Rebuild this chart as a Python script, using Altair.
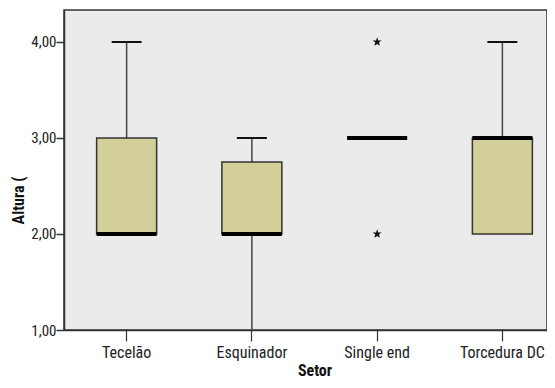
import altair as alt
import pandas as pd

categories = ["Tecelão", "Esquinador", "Single end", "Torcedura DC"]
q1 = [2.0, 2.0, 3.0, 2.0]
median = [2.0, 2.0, 3.0, 3.0]
q3 = [3.0, 2.75, 3.0, 3.0]
whisker_lo = [2.0, 1.0, 3.0, 2.0]
whisker_hi = [4.0, 3.0, 3.0, 4.0]
outlier_cat = ["Single end", "Single end"]
outlier_val = [4.0, 2.0]
y_ticks = [1, 2, 3, 4]

box = pd.DataFrame({"setor": categories, "q1": q1, "median": median, "q3": q3,
                    "lo": whisker_lo, "hi": whisker_hi})
caps = pd.concat([
    pd.DataFrame({"setor": box["setor"], "v": box["hi"], "edge": box["q3"]}),
    pd.DataFrame({"setor": box["setor"], "v": box["lo"], "edge": box["q1"]}),
])
caps = caps[(caps["v"] != caps["edge"]) & (caps["v"] > min(y_ticks))]
outl = pd.DataFrame({"setor": outlier_cat, "v": outlier_val})

FONT = "Liberation Sans Narrow, Roboto Condensed, Liberation Sans"
DARK = "#333333"
STAR = ("M0,-1L0.235,-0.324L0.951,-0.309L0.38,0.124L0.588,0.809L0,0.4"
        "L-0.588,0.809L-0.38,0.124L-0.951,-0.309L-0.235,-0.324Z")

x = alt.X("setor:N", sort=categories,
          scale=alt.Scale(domain=categories, range=[0, 501], paddingInner=0, paddingOuter=0),
          axis=alt.Axis(orient="bottom", title="Setor", labelAngle=0, labelFont=FONT,
                        labelFontSize=16, labelColor="#222", tickSize=11, tickColor=DARK,
                        tickWidth=1.2, domainColor=DARK, domainWidth=1.5, labelPadding=3,
                        titleFont=FONT, titleFontSize=16, titleFontWeight="bold",
                        titleColor="#111", titleY=45, titleBaseline="alphabetic"))
yscale = alt.Scale(domain=[1, 4.3333], nice=False, zero=False)
yaxis = alt.Axis(title="Altura (", values=y_ticks, grid=False,
                 labelExpr="replace(format(datum.value, '.2f'), '.', ',')",
                 labelFont=FONT, labelFontSize=15, labelColor="#222", labelPadding=0,
                 tickSize=8, tickColor=DARK, tickWidth=1.5, domainColor=DARK, domainWidth=1.5,
                 titleFont=FONT, titleFontSize=16, titleFontWeight="bold", titleColor="#111",
                 titleAngle=270, titleX=-46, titleY=190, titleAlign="center",
                 titleBaseline="middle")

base = alt.Chart(box)
whisk = base.mark_rule(color="#444", strokeWidth=1.5).encode(
    x=x, y=alt.Y("lo:Q", scale=yscale, axis=yaxis), y2="hi:Q")
rects = base.mark_bar(size=60, color="#D3CF98", stroke=DARK, strokeWidth=1.5).encode(
    x=x, y=alt.Y("q1:Q", scale=yscale), y2="q3:Q")
meds = base.mark_tick(size=60, thickness=4, color="#000", opacity=1).encode(
    x=x, y=alt.Y("median:Q", scale=yscale))
capm = alt.Chart(caps).mark_tick(size=30, thickness=2, color="#111", opacity=1).encode(
    x=x, y=alt.Y("v:Q", scale=yscale))
stars = alt.Chart(outl).mark_point(shape=STAR, filled=True, size=90, color="#111",
                                   opacity=1).encode(
    x=x, y=alt.Y("v:Q", scale=yscale))

chart = alt.layer(whisk, rects, meds, capm, stars).properties(
    width=483, height=320,
    autosize=alt.AutoSizeParams(type="none"),
    padding={"left": 56, "top": 2, "right": 0, "bottom": 50},
    background="white",
).configure_view(fill="#EBEBEB", stroke=DARK, strokeWidth=1.5)

chart.save("out.html", embed_options={"renderer": "svg", "actions": False})
